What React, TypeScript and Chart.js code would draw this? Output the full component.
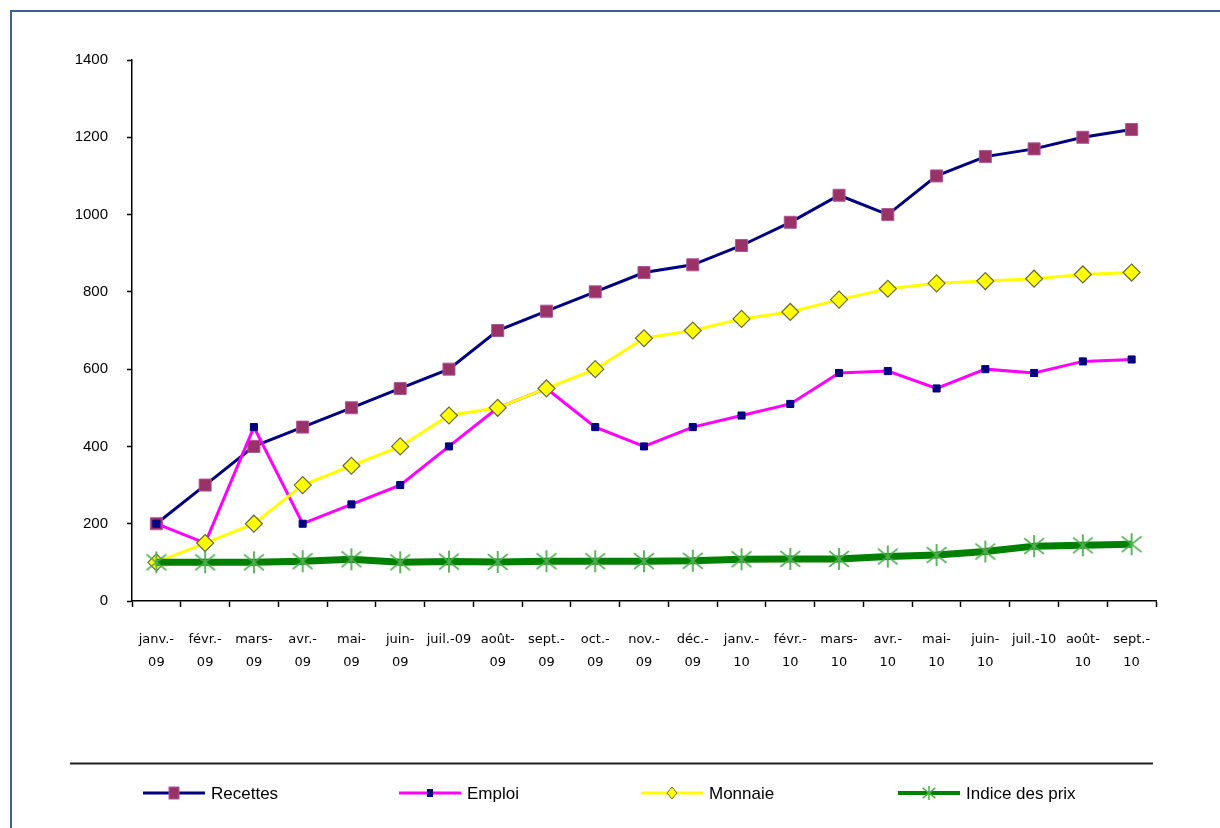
import React, { useEffect, useRef } from "react";
import { Chart, registerables } from "chart.js";

Chart.register(...registerables);

const categories: (string | string[])[] = [
  ["janv.-", "09"], ["févr.-", "09"], ["mars-", "09"], ["avr.-", "09"], ["mai-", "09"], ["juin-", "09"],
  "juil.-09", ["août-", "09"], ["sept.-", "09"], ["oct.-", "09"], ["nov.-", "09"], ["déc.-", "09"],
  ["janv.-", "10"], ["févr.-", "10"], ["mars-", "10"], ["avr.-", "10"], ["mai-", "10"], ["juin-", "10"],
  "juil.-10", ["août-", "10"], ["sept.-", "10"],
];

const recettes = [200, 300, 400, 450, 500, 550, 600, 700, 750, 800, 850, 870, 920, 980, 1050, 1000, 1100, 1150, 1170, 1200, 1220];
const emploi = [200, 150, 450, 200, 250, 300, 400, 500, 550, 450, 400, 450, 480, 510, 590, 595, 550, 600, 590, 620, 625];
const monnaie = [100, 150, 200, 300, 350, 400, 480, 500, 550, 600, 680, 700, 730, 748, 780, 808, 822, 828, 834, 845, 850];
const indicePrix = [100, 100, 100, 103, 108, 100, 102, 101, 103, 103, 103, 104, 108, 109, 109, 115, 119, 128, 142, 144, 147];

const seriesNames = ["Recettes", "Emploi", "Monnaie", "Indice des prix"];
const yTicks = [0, 200, 400, 600, 800, 1000, 1200, 1400];

const STAR_COLOR = "#4fae4f";

function strokeStar(g: CanvasRenderingContext2D, x: number, y: number, r: number, lw: number) {
  const dx = r * 0.9;
  const dy = r * 0.72;
  g.save();
  g.strokeStyle = STAR_COLOR;
  g.lineWidth = lw;
  g.beginPath();
  g.moveTo(x, y - r);
  g.lineTo(x, y + r);
  g.moveTo(x - dx, y - dy);
  g.lineTo(x + dx, y + dy);
  g.moveTo(x + dx, y - dy);
  g.lineTo(x - dx, y + dy);
  g.stroke();
  g.restore();
}

function makeStar(size: number): HTMLCanvasElement {
  const c = document.createElement("canvas");
  c.width = size;
  c.height = size;
  const g = c.getContext("2d")!;
  strokeStar(g, size / 2, size / 2, size / 2 - 1, 1.8);
  return c;
}

const framePlugin = {
  id: "frameBg",
  beforeDraw(chart: any) {
    const ctx = chart.ctx as CanvasRenderingContext2D;
    ctx.save();
    ctx.fillStyle = "#ffffff";
    ctx.fillRect(0, 0, chart.width, chart.height);
    ctx.strokeStyle = "#3d6098";
    ctx.lineWidth = 2;
    ctx.beginPath();
    ctx.moveTo(11, chart.height + 2);
    ctx.lineTo(11, 11);
    ctx.lineTo(chart.width + 2, 11);
    ctx.stroke();
    ctx.restore();
  },
};

const legendPlugin = {
  id: "customLegend",
  afterDraw(chart: any) {
    const ctx = chart.ctx as CanvasRenderingContext2D;
    ctx.save();
    ctx.strokeStyle = "#222222";
    ctx.lineWidth = 2;
    ctx.beginPath();
    ctx.moveTo(70, 763.5);
    ctx.lineTo(1153, 763.5);
    ctx.stroke();

    const xs = [143, 399, 641, 898];
    const y = 793;
    const sw = 62;
    chart.data.datasets.forEach((ds: any, i: number) => {
      const x0 = xs[i];
      ctx.strokeStyle = ds.borderColor;
      ctx.lineWidth = i === 3 ? 4 : 3;
      ctx.beginPath();
      ctx.moveTo(x0, y);
      ctx.lineTo(x0 + sw, y);
      ctx.stroke();
      const cx = x0 + sw / 2;
      if (i === 0) {
        ctx.fillStyle = "#993366";
        ctx.strokeStyle = "#b0559a";
        ctx.lineWidth = 1;
        ctx.fillRect(cx - 5, y - 6, 10, 12);
        ctx.strokeRect(cx - 5, y - 6, 10, 12);
      } else if (i === 1) {
        ctx.fillStyle = "#000080";
        ctx.fillRect(cx - 3, y - 4, 6, 8);
      } else if (i === 2) {
        ctx.fillStyle = "#ffff00";
        ctx.strokeStyle = "#6b6b3a";
        ctx.lineWidth = 1;
        ctx.beginPath();
        ctx.moveTo(cx - 5, y);
        ctx.lineTo(cx, y - 6);
        ctx.lineTo(cx + 5, y);
        ctx.lineTo(cx, y + 6);
        ctx.closePath();
        ctx.fill();
        ctx.stroke();
      } else {
        strokeStar(ctx, cx, y, 7, 1.5);
      }
      ctx.fillStyle = "#000000";
      ctx.font = "17px 'Liberation Sans', Arial, sans-serif";
      ctx.textAlign = "left";
      ctx.textBaseline = "middle";
      ctx.fillText(ds.label, x0 + sw + 6, y + 1);
    });
    ctx.restore();
  },
};

export default function App() {
  const canvasRef = useRef<HTMLCanvasElement | null>(null);

  useEffect(() => {
    if (!canvasRef.current) return;
    const star = makeStar(24);
    const chart = new Chart(canvasRef.current, {
      type: "line",
      data: {
        labels: categories as any,
        datasets: [
          {
            label: seriesNames[0],
            data: recettes,
            borderColor: "#000080",
            borderWidth: 3,
            pointStyle: "rect",
            pointRadius: 8.5,
            pointBackgroundColor: "#993366",
            pointBorderColor: "#b0559a",
            pointBorderWidth: 1,
            order: 4,
          },
          {
            label: seriesNames[1],
            data: emploi,
            borderColor: "#ff00ff",
            borderWidth: 3,
            pointStyle: "rect",
            pointRadius: 5,
            pointBackgroundColor: "#000080",
            pointBorderColor: "#000080",
            pointBorderWidth: 1,
            order: 3,
          },
          {
            label: seriesNames[2],
            data: monnaie,
            borderColor: "#ffff00",
            borderWidth: 3,
            pointStyle: "rectRot",
            pointRadius: 8.5,
            pointBackgroundColor: "#ffff00",
            pointBorderColor: "#6b6b3a",
            pointBorderWidth: 1.2,
            order: 2,
          },
          {
            label: seriesNames[3],
            data: indicePrix,
            borderColor: "#008000",
            borderWidth: 7,
            pointStyle: star as any,
            pointRadius: 12,
            order: 1,
          },
        ],
      },
      options: {
        responsive: false,
        animation: false,
        events: [],
        layout: { padding: { left: 10, right: 64, top: 60, bottom: 0 } },
        plugins: {
          legend: { display: false },
          tooltip: { enabled: false },
        },
        scales: {
          x: {
            type: "category",
            offset: true,
            grid: {
              display: true,
              drawOnChartArea: false,
              offset: true,
              tickLength: 6,
              tickColor: "#000",
              tickWidth: 1.5,
            },
            border: { color: "#000", width: 1.5 },
            ticks: {
              color: "#000",
              autoSkip: false,
              maxRotation: 0,
              minRotation: 0,
              padding: 22,
              font: { family: "'DejaVu Sans', sans-serif", size: 13, lineHeight: 1.7 },
            },
            afterFit: (s: any) => {
              s.height = 227;
            },
          },
          y: {
            min: 0,
            max: 1400,
            afterBuildTicks: (s: any) => {
              s.ticks = yTicks.map((v) => ({ value: v }));
            },
            grid: {
              display: true,
              drawOnChartArea: false,
              tickLength: 5,
              tickColor: "#000",
              tickWidth: 1.5,
            },
            border: { color: "#000", width: 1.5 },
            ticks: {
              color: "#000",
              padding: 19,
              font: { family: "'Liberation Sans', Arial, sans-serif", size: 15 },
              callback: (v: any) => String(v),
            },
            afterFit: (s: any) => {
              s.width = 122;
            },
          },
        },
      },
      plugins: [framePlugin, legendPlugin],
    });
    return () => chart.destroy();
  }, []);

  return (
    <div style={{ position: "absolute", left: 0, top: 0, width: 1220, height: 828 }}>
      <canvas ref={canvasRef} width={1220} height={828} style={{ display: "block" }} />
    </div>
  );
}
